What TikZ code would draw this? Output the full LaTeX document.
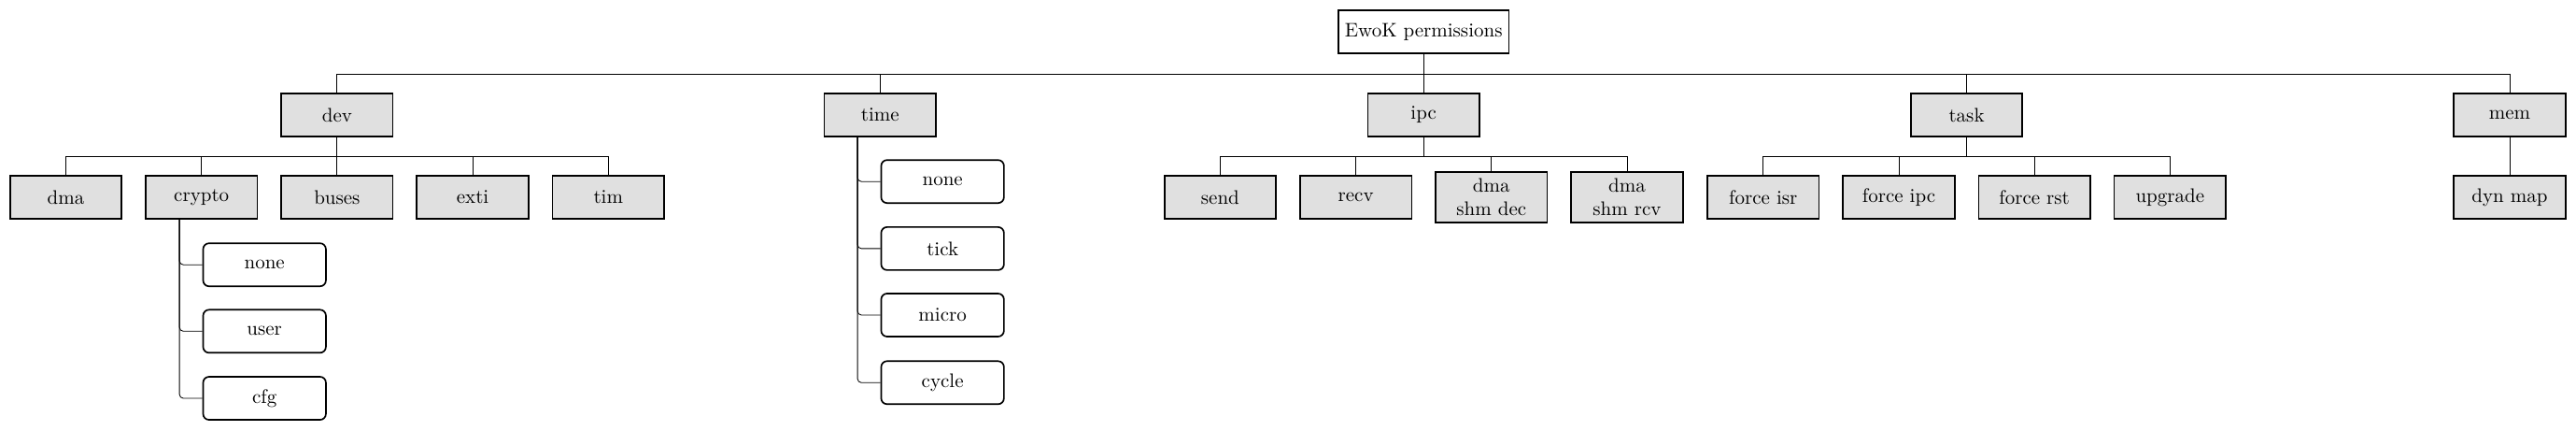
\documentclass[tikz,border=0pt]{standalone}
\usepackage{tikz}
\definecolor{boxgrey}{HTML}{E0E0E0}

\begin{document}
\begin{tikzpicture}[
    rootbox/.style={draw, thick, fill=white, minimum height=0.77cm},
    catbox/.style={draw, thick, fill=boxgrey, minimum width=2cm, minimum height=0.77cm, align=center},
    optbox/.style={draw, thick, fill=white, rounded corners=3pt, minimum width=2.2cm, minimum height=0.77cm},
    fork/.style={thin},
    folder/.style={thin, rounded corners=2pt}]

           \useasboundingbox (0,0) rectangle (46.16,-7.70);

           % Root
           \node[rootbox] (ewok) at (25.51,-0.569) {EwoK permissions};
           \coordinate (ewokbus) at (25.51,-1.322);

           % First level
           \node[catbox] (dev) at (6.04,-2.059) {dev};
           \node[catbox] (time) at (15.77,-2.059) {time};
           \node[catbox] (ipc) at (25.51,-2.059) {ipc};
           \node[catbox] (task) at (35.24,-2.059) {task};
           \node[catbox] (mem) at (44.97,-2.059) {mem};

           \draw[fork] (ewok.south) -- (ewokbus) -| (dev.north);
           \draw[fork] (ewok.south) -- (ewokbus) -| (time.north);
           \draw[fork] (ewok.south) -- (ewokbus) -- (ipc.north);
           \draw[fork] (ewok.south) -- (ewokbus) -| (task.north);
           \draw[fork] (ewok.south) -- (ewokbus) -| (mem.north);

           % dev
           \coordinate (devbus) at (6.04,-2.795);
           \node[catbox] (dma) at (1.18,-3.531) {dma};
           \node[catbox] (crypto) at (3.61,-3.531) {crypto};
           \node[catbox] (buses) at (6.04,-3.531) {buses};
           \node[catbox] (exti) at (8.47,-3.531) {exti};
           \node[catbox] (tim) at (10.90,-3.531) {tim};

           \draw[fork] (dev.south) -- (devbus) -| (dma.north);
           \draw[fork] (dev.south) -- (devbus) -| (crypto.north);
           \draw[fork] (dev.south) -- (devbus) -- (buses.north);
           \draw[fork] (dev.south) -- (devbus) -| (exti.north);
           \draw[fork] (dev.south) -- (devbus) -| (tim.north);

           % crypto options
           \coordinate (cryptostem) at ([xshift=0.62cm]crypto.south west);
           \node[optbox] (cnone) at (4.74,-4.74) {none};
           \node[optbox] (cuser) at (4.74,-5.93) {user};
           \node[optbox] (ccfg) at (4.74,-7.13) {cfg};

           \draw[folder] (cryptostem) |- (cnone.west);
           \draw[folder] (cryptostem) |- (cuser.west);
           \draw[folder] (cryptostem) |- (ccfg.west);

           % time options
           \coordinate (timestem) at ([xshift=0.61cm]time.south west);
           \node[optbox] (tnone) at (16.89,-3.25) {none};
           \node[optbox] (ttick) at (16.89,-4.45) {tick};
           \node[optbox] (tmicro) at (16.89,-5.64) {micro};
           \node[optbox] (tcycle) at (16.89,-6.85) {cycle};

           \draw[folder] (timestem) |- (tnone.west);
           \draw[folder] (timestem) |- (ttick.west);
           \draw[folder] (timestem) |- (tmicro.west);
           \draw[folder] (timestem) |- (tcycle.west);

           % ipc
           \coordinate (ipcbus) at (25.51,-2.795);
           \node[catbox] (send) at (21.865,-3.531) {send};
           \node[catbox] (recv) at (24.295,-3.531) {recv};
           \node[catbox] (shmdec) at (26.725,-3.531) {dma\\shm dec};
           \node[catbox] (shmrcv) at (29.155,-3.531) {dma\\shm rcv};

           \draw[fork] (ipc.south) -- (ipcbus) -| (send.north);
           \draw[fork] (ipc.south) -- (ipcbus) -| (recv.north);
           \draw[fork] (ipc.south) -- (ipcbus) -| (shmdec.north);
           \draw[fork] (ipc.south) -- (ipcbus) -| (shmrcv.north);

           % task
           \coordinate (taskbus) at (35.24,-2.795);
           \node[catbox] (forceisr) at (31.595,-3.531) {force isr};
           \node[catbox] (forceipc) at (34.025,-3.531) {force ipc};
           \node[catbox] (forcerst) at (36.455,-3.531) {force rst};
           \node[catbox] (upgrade) at (38.885,-3.531) {upgrade};

           \draw[fork] (task.south) -- (taskbus) -| (forceisr.north);
           \draw[fork] (task.south) -- (taskbus) -| (forceipc.north);
           \draw[fork] (task.south) -- (taskbus) -| (forcerst.north);
           \draw[fork] (task.south) -- (taskbus) -| (upgrade.north);

           % mem
           \node[catbox] (dynmap) at (44.97,-3.531) {dyn map};
           \draw[fork] (mem.south) -- (dynmap.north);

\end{tikzpicture}
\end{document}
